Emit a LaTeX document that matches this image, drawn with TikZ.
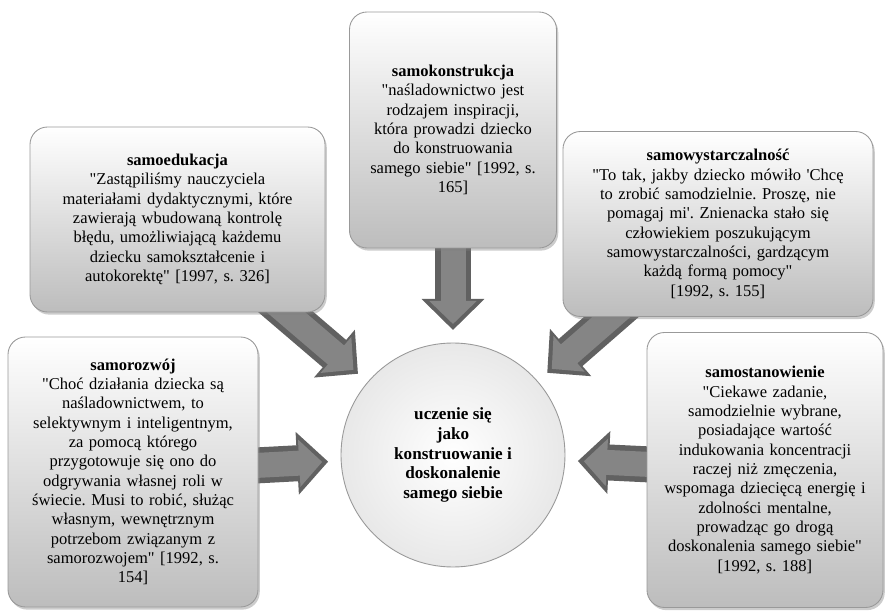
\documentclass[tikz,border=0pt]{standalone}
\usepackage{fontspec}
\setmainfont{Liberation Serif}
\newfontfamily\plainserif{Liberation Serif}
\usetikzlibrary{arrows.meta,shadows,backgrounds}
\tikzset{
  themebox/.style={draw=black!40, line width=0.5pt, rounded corners=0.35cm, top color=white, bottom color=black!26, align=center, inner sep=2pt, font=\plainserif\fontsize{9.4}{11}\selectfont, drop shadow={shadow xshift=1pt, shadow yshift=-1.5pt, opacity=0.4}},
  hub/.style={circle, draw=black!40, line width=0.5pt, inner color=white, outer color=black!9, minimum size=4.48cm, align=center, font=\plainserif\bfseries\fontsize{9.75}{11.2}\selectfont},
  arrowout/.style={line width=0.72cm, draw=black!62, shorten >=2.5cm, -{Triangle[length=0.62cm, width=1.22cm]}},
  arrowfill/.style={line width=0.5cm, draw=black!48, shorten >=2.62cm, -{Triangle[length=0.46cm, width=0.92cm]}},
}
\frenchspacing
\begin{document}
\begin{tikzpicture}
\useasboundingbox (0,0) rectangle (17.74,12.26);
\node[hub] (uczenie) at (9.06,3.16) {uczenie się\\jako\\konstruowanie i\\doskonalenie\\samego siebie};
\node[themebox, minimum width=4.14cm, minimum height=4.72cm, text width=3.9cm] (samokonstrukcja) at (9.06,9.66) {\textbf{samokonstrukcja}\\"naśladownictwo jest\\rodzajem inspiracji,\\która prowadzi dziecko\\do konstruowania\\samego siebie" [1992, s.\\165]};
\node[themebox, minimum width=5.9cm, minimum height=3.7cm, text width=5.6cm] (samoedukacja) at (3.55,7.87) {\textbf{samoedukacja}\\"Zastąpiliśmy nauczyciela\\materiałami dydaktycznymi, które\\zawierają wbudowaną kontrolę\\błędu, umożliwiającą każdemu\\dziecku samokształcenie i\\autokorektę" [1997, s. 326]};
\node[themebox, minimum width=6.2cm, minimum height=3.7cm, text width=5.9cm] (samowystarczalnosc) at (14.36,7.78) {\textbf{samowystarczalność}\\"To tak, jakby dziecko mówiło 'Chcę\\to zrobić samodzielnie. Proszę, nie\\pomagaj mi'. Znienacka stało się\\człowiekiem poszukującym\\samowystarczalności, gardzącym\\każdą formą pomocy"\\{[1992, s. 155]}};
\node[themebox, minimum width=5.0cm, minimum height=5.4cm, text width=4.7cm] (samorozwoj) at (2.66,2.82) {\textbf{samorozwój}\\"Choć działania dziecka są\\naśladownictwem, to\\selektywnym i inteligentnym,\\za pomocą którego\\przygotowuje się ono do\\odgrywania własnej roli w\\świecie. Musi to robić, służąc\\własnym, wewnętrznym\\potrzebom związanym z\\samorozwojem" [1992, s.\\154]};
\node[themebox, minimum width=4.72cm, minimum height=5.5cm, text width=4.5cm] (samostanowienie) at (15.3,2.86) {\textbf{samostanowienie}\\"Ciekawe zadanie,\\samodzielnie wybrane,\\posiadające wartość\\indukowania koncentracji\\raczej niż zmęczenia,\\wspomaga dziecięcą energię i\\zdolności mentalne,\\prowadząc go drogą\\doskonalenia samego siebie"\\{[1992, s. 188]}};
\begin{scope}[on background layer]
\draw[arrowout] (samokonstrukcja.center) -- (uczenie.center);
\draw[arrowout] (samoedukacja.center) -- (uczenie.center);
\draw[arrowout] (samowystarczalnosc.center) -- (uczenie.center);
\draw[arrowout] (samorozwoj.center) -- (uczenie.center);
\draw[arrowout] (samostanowienie.center) -- (uczenie.center);
\draw[arrowfill] (samokonstrukcja.center) -- (uczenie.center);
\draw[arrowfill] (samoedukacja.center) -- (uczenie.center);
\draw[arrowfill] (samowystarczalnosc.center) -- (uczenie.center);
\draw[arrowfill] (samorozwoj.center) -- (uczenie.center);
\draw[arrowfill] (samostanowienie.center) -- (uczenie.center);
\end{scope}
\end{tikzpicture}
\end{document}
